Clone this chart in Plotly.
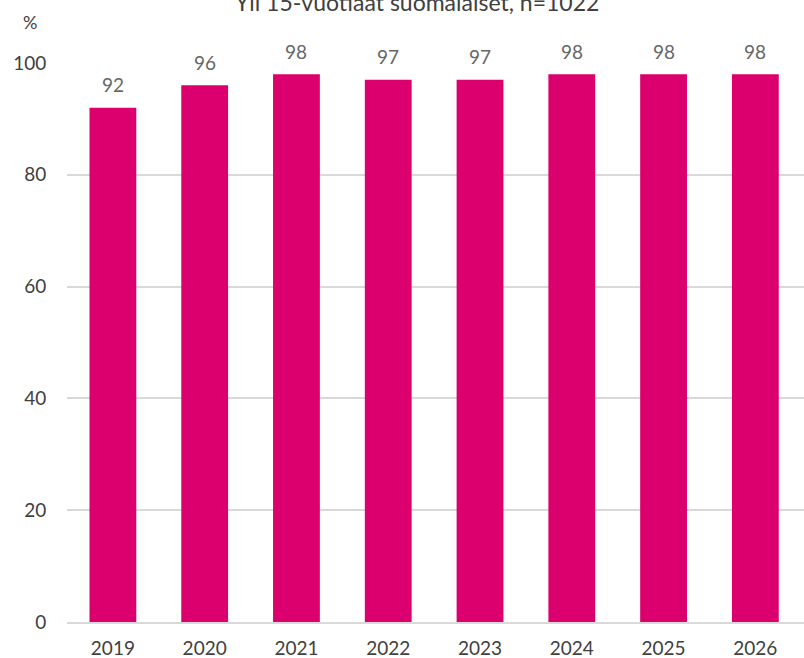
import plotly.graph_objects as go

years = ['2019', '2020', '2021', '2022', '2023', '2024', '2025', '2026']
share = [92, 96, 98, 97, 97, 98, 98, 98]

title_text = "Yli 15-vuotiaat suomalaiset, n=1022"
unit_text = "%"

bar_color = '#DB006E'
axis_color = '#404040'
label_color = '#666666'
font_family = "Lato, 'Noto Sans', sans-serif"

fig = go.Figure()

fig.add_trace(go.Bar(
    x=years,
    y=share,
    marker=dict(color=bar_color, line=dict(width=0)),
    hoverinfo='x+y',
    showlegend=False,
))

# value labels above the bars (category axes take the serial index as x)
for i, val in enumerate(share):
    fig.add_annotation(
        x=i, y=val, xref='x', yref='y',
        text=str(val), showarrow=False,
        yanchor='middle', yshift=23,
        font=dict(size=19, color=label_color, family=font_family),
    )

fig.add_annotation(
    xref='paper', yref='paper', x=0.475, y=1.11,
    text=title_text, showarrow=False, xanchor='center', yanchor='middle',
    font=dict(size=23, color=axis_color, family=font_family),
)
fig.add_annotation(
    xref='paper', yref='paper', x=-0.05, y=1.074,
    text=unit_text, showarrow=False, xanchor='center', yanchor='middle',
    font=dict(size=18, color=axis_color, family=font_family),
)

fig.update_layout(
    width=804, height=658,
    margin=dict(l=67, r=0, t=63, b=36),
    paper_bgcolor='white', plot_bgcolor='white',
    bargap=0.49,
    font=dict(family=font_family, size=19, color=axis_color),
)
fig.update_xaxes(
    type='category',
    showgrid=False, showline=True, linecolor='#d9d9d9', linewidth=2,
    ticks='outside', ticklen=8, tickcolor='rgba(0,0,0,0)',
    range=[-0.5, 7.53],
    tickfont=dict(size=19, color=axis_color),
)
fig.update_yaxes(
    range=[0, 100], dtick=20,
    showgrid=True, gridcolor='#d9d9d9', gridwidth=1.5,
    zeroline=False,
    ticks='outside', ticklen=16, tickcolor='rgba(0,0,0,0)',
    tickfont=dict(size=19, color=axis_color),
)

# drop the default page margin so the figure sits at the window's corner
fig.write_html("out.html", config={'displayModeBar': False},
               post_script="document.body.style.margin='0';")
